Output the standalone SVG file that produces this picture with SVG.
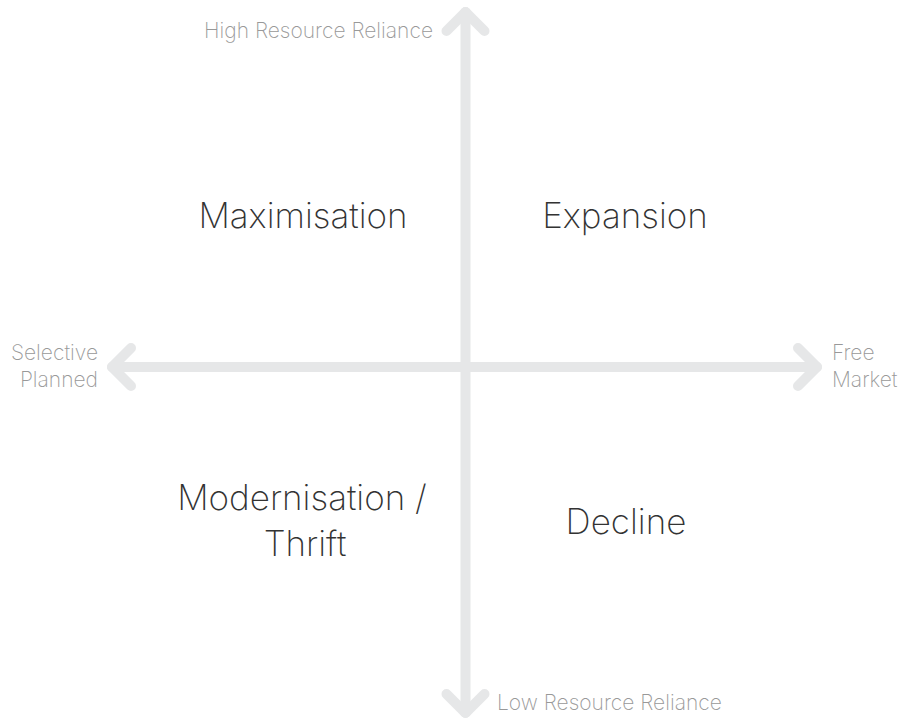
<svg xmlns="http://www.w3.org/2000/svg" width="900" height="722" viewBox="0 0 900 722">
<style>
.axis{fill:none;stroke:#e6e7e8;stroke-width:10;stroke-linecap:round;stroke-linejoin:round}
.lbl{font-family:Inter,"Liberation Sans",sans-serif;font-weight:200;font-size:21px;fill:#999999}
.q{font-family:Inter,"Liberation Sans",sans-serif;font-weight:200;font-size:35px;fill:#333333;text-anchor:middle}
</style>
<rect width="900" height="722" fill="#ffffff"/>
<g id="connectors">
<path class="axis" d="M465.5 12 V713"/>
<path class="axis" d="M112 367 H817"/>
<path class="axis" d="M446.5 31 L465.5 12 L484.5 31"/>
<path class="axis" d="M446.5 694 L465.5 713 L484.5 694"/>
<path class="axis" d="M131 348 L112 367 L131 386"/>
<path class="axis" d="M798 348 L817 367 L798 386"/>
</g>
<g id="axis-labels">
<text class="lbl" x="433" y="38" text-anchor="end">High Resource Reliance</text>
<text class="lbl" x="497" y="710">Low Resource Reliance</text>
<text class="lbl" x="98" y="360" text-anchor="end">Selective</text>
<text class="lbl" x="98" y="387" text-anchor="end">Planned</text>
<text class="lbl" x="832" y="360">Free</text>
<text class="lbl" x="832" y="387">Market</text>
</g>
<g id="maximisation"><text class="q" x="303" y="228">Maximisation</text></g>
<g id="expansion"><text class="q" x="625" y="228">Expansion</text></g>
<g id="modernisation"><text class="q" x="302" y="510">Modernisation /</text><text class="q" x="305" y="556">Thrift</text></g>
<g id="decline"><text class="q" x="626" y="534">Decline</text></g>
</svg>
